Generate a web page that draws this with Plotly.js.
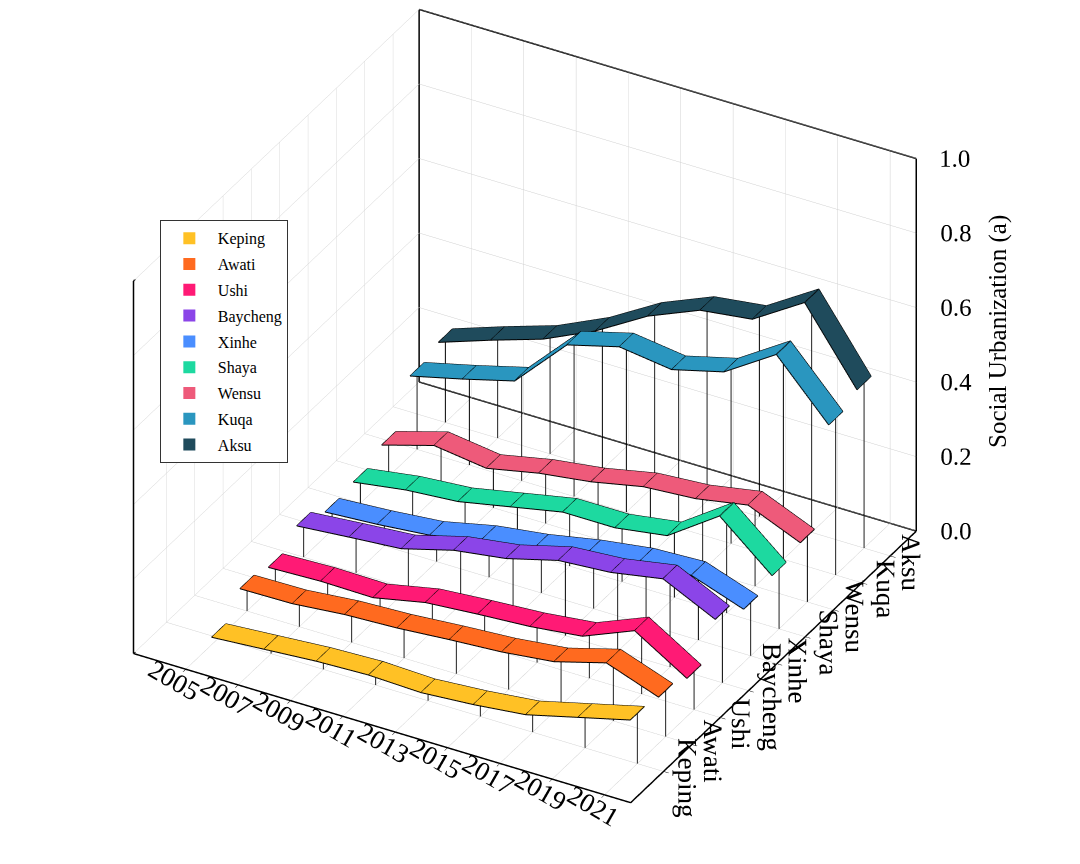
<!DOCTYPE html>
<html>
<head>
<meta charset="utf-8">
<script src="https://cdn.plot.ly/plotly-3.0.1.min.js"></script>
<style>
  html, body { margin: 0; padding: 0; background: #ffffff; }
  #chart { width: 1080px; height: 864px; }
</style>
</head>
<body>
<div id="chart"></div>
<script>
// Years on the x axis, counties on the y axis
const YEARS = [2005, 2007, 2009, 2011, 2013, 2015, 2017, 2019, 2021];
const COUNTIES = ['Keping', 'Awati', 'Ushi', 'Baycheng', 'Xinhe', 'Shaya', 'Wensu', 'Kuqa', 'Aksu'];
const COLORS = ['#FFC125', '#FF6A1F', '#FF1A75', '#8B45E8', '#4A8EFF', '#1DD9A0', '#EE5A7A', '#2A96BF', '#1F4B5C'];

// Social urbanization values
const KEPING   = [0.02, 0.03, 0.04, 0.045, 0.04, 0.05, 0.065, 0.10, 0.135];
const AWATI    = [0.078, 0.080, 0.093, 0.099, 0.110, 0.119, 0.135, 0.174, 0.124];
const USHI     = [0.063, 0.068, 0.066, 0.095, 0.106, 0.115, 0.131, 0.188, 0.102];
const BAYCHENG = [0.102, 0.114, 0.125, 0.163, 0.183, 0.220, 0.230, 0.255, 0.188];
const XINHE    = [0.067, 0.076, 0.089, 0.120, 0.139, 0.166, 0.186, 0.192, 0.143];
const SHAYA    = [0.075, 0.096, 0.107, 0.135, 0.163, 0.163, 0.184, 0.279, 0.161];
const WENSU    = [0.102, 0.143, 0.124, 0.153, 0.172, 0.201, 0.211, 0.236, 0.177];
const KUQA     = [0.215, 0.249, 0.286, 0.425, 0.462, 0.443, 0.479, 0.568, 0.421];
const AKSU     = [0.233, 0.281, 0.326, 0.390, 0.472, 0.530, 0.548, 0.635, 0.443];
const SERIES = [KEPING, AWATI, USHI, BAYCHENG, XINHE, SHAYA, WENSU, KUQA, AKSU];

const Z_TICKS = [0, 0.2, 0.4, 0.6, 0.8, 1.0];

const X_RANGE = [2003, 2022];
const Y_RANGE = [-1.16, 8.92];
const Z_RANGE = [0, 1];
const HALF_W = 0.25;   // half width of each ribbon along the county axis

const FONT = '"Liberation Serif", "DejaVu Serif", serif';

let traces = [];
let edgeX = [], edgeY = [], edgeZ = [];
let dropX = [], dropY = [], dropZ = [];

SERIES.forEach((vals, i) => {
    let vx = [], vy = [], vz = [], ii = [], jj = [], kk = [];
    YEARS.forEach((yr, k) => {
        vx.push(yr, yr); vy.push(i - HALF_W, i + HALF_W); vz.push(vals[k], vals[k]);
        if (k < YEARS.length - 1) {
            let a = 2 * k;
            ii.push(a, a + 1); jj.push(a + 1, a + 3); kk.push(a + 2, a + 2);
        }
        // divider across the ribbon
        edgeX.push(yr, yr, null); edgeY.push(i - HALF_W, i + HALF_W, null); edgeZ.push(vals[k], vals[k], null);
        // drop line to the floor
        dropX.push(yr, yr, null); dropY.push(i, i, null); dropZ.push(0, vals[k], null);
    });
    // long edges of the ribbon
    [i - HALF_W, i + HALF_W].forEach(yy => {
        YEARS.forEach((yr, k) => { edgeX.push(yr); edgeY.push(yy); edgeZ.push(vals[k]); });
        edgeX.push(null); edgeY.push(null); edgeZ.push(null);
    });
    traces.push({
        type: 'mesh3d', x: vx, y: vy, z: vz, i: ii, j: jj, k: kk,
        color: COLORS[i], opacity: 1, flatshading: true,
        lighting: {ambient: 1, diffuse: 0, specular: 0, roughness: 1, fresnel: 0},
        hoverinfo: 'skip', showlegend: false, legendgroup: COUNTIES[i], showscale: false
    });
});

traces.push({
    type: 'scatter3d', mode: 'lines', x: dropX, y: dropY, z: dropZ,
    line: {color: '#000000', width: 1.8}, hoverinfo: 'skip', showlegend: false
});
traces.push({
    type: 'scatter3d', mode: 'lines', x: edgeX, y: edgeY, z: edgeZ,
    line: {color: '#000000', width: 2}, hoverinfo: 'skip', showlegend: false
});

// visible frame edges of the box (floor, back walls)
let [x0, x1] = X_RANGE, [y0, y1] = Y_RANGE, [z0, z1] = Z_RANGE;
let frame = [
    [[x0, y0, z0], [x1, y0, z0]], [[x1, y0, z0], [x1, y1, z0]],
    [[x1, y1, z0], [x0, y1, z0]], [[x0, y1, z0], [x0, y0, z0]],
    [[x0, y0, z0], [x0, y0, z1]], [[x0, y1, z0], [x0, y1, z1]], [[x1, y1, z0], [x1, y1, z1]],
    [[x0, y0, z1], [x0, y1, z1]], [[x0, y1, z1], [x1, y1, z1]]
];
let fx = [], fy = [], fz = [];
frame.forEach(([p, q]) => { fx.push(p[0], q[0], null); fy.push(p[1], q[1], null); fz.push(p[2], q[2], null); });
traces.push({
    type: 'scatter3d', mode: 'lines', x: fx, y: fy, z: fz,
    line: {color: '#000000', width: 3}, hoverinfo: 'skip', showlegend: false
});

// z tick labels next to the right vertical edge
traces.push({
    type: 'scatter3d', mode: 'text',
    x: Z_TICKS.map(() => x1), y: Z_TICKS.map(() => y1), z: Z_TICKS,
    text: Z_TICKS.map(v => ' ' + v.toFixed(1)), textposition: 'middle right',
    textfont: {family: FONT, size: 25, color: '#000000'},
    hoverinfo: 'skip', showlegend: false
});

// legend entries (flat patches)
COUNTIES.forEach((c, i) => {
    traces.push({
        type: 'bar', x: [0], y: [0], name: c, legendgroup: c,
        marker: {color: COLORS[i], line: {width: 0}},
        xaxis: 'x', yaxis: 'y', hoverinfo: 'skip'
    });
});

const axisBase = {
    showbackground: false,
    gridcolor: '#d0d0d0', gridwidth: 1,
    zeroline: false, showline: true, linecolor: '#000000', linewidth: 2, showspikes: false,
    ticks: 'outside', tickcolor: '#000000', ticklen: 6,
    tickfont: {family: FONT, size: 18, color: '#000000'}
};

const layout = {
    width: 1080, height: 864,
    margin: {l: 0, r: 0, t: 0, b: 0},
    paper_bgcolor: '#ffffff', plot_bgcolor: 'rgba(0,0,0,0)',
    showlegend: true,
    legend: {
        x: 0.148, y: 0.745, xanchor: 'left', yanchor: 'top',
        bgcolor: '#ffffff', bordercolor: '#333333', borderwidth: 1,
        font: {family: FONT, size: 16, color: '#000000'},
        traceorder: 'grouped', tracegroupgap: 2, itemwidth: 47
    },
    xaxis: {visible: false, domain: [0, 0.01]},
    yaxis: {visible: false, domain: [0, 0.01]},
    annotations: [{
        xref: 'paper', yref: 'paper', x: 998 / 1080, y: 1 - 332 / 864,
        xanchor: 'center', yanchor: 'middle',
        text: 'Social Urbanization (a)', showarrow: false, textangle: -90,
        font: {family: FONT, size: 25, color: '#000000'}
    }],
    scene: {
        domain: {x: [0, 1], y: [0, 1]},
        aspectmode: 'manual', aspectratio: {x: 1.32, y: 1.35, z: 1.02},
        camera: {
            eye: {x: 1.081, y: -1.853, z: 1.284},
            center: {x: 0.046, y: -0.0105, z: -0.051},
            up: {x: 0, y: 0, z: 1},
            projection: {type: 'orthographic'}
        },
        xaxis: Object.assign({}, axisBase, {
            range: X_RANGE, autorange: false,
            tickvals: YEARS, ticktext: YEARS.map(String), tickangle: 30,
            title: {text: ''}
        }),
        yaxis: Object.assign({}, axisBase, {
            range: Y_RANGE, autorange: false,
            tickvals: COUNTIES.map((c, i) => i), ticktext: COUNTIES, tickangle: 90,
            title: {text: ''}
        }),
        zaxis: Object.assign({}, axisBase, {
            range: Z_RANGE, autorange: false, showline: false,
            tickvals: Z_TICKS, showticklabels: false, ticks: '',
            title: {text: ''}
        })
    }
};

Plotly.newPlot('chart', traces, layout, {displayModeBar: false});
</script>
</body>
</html>
